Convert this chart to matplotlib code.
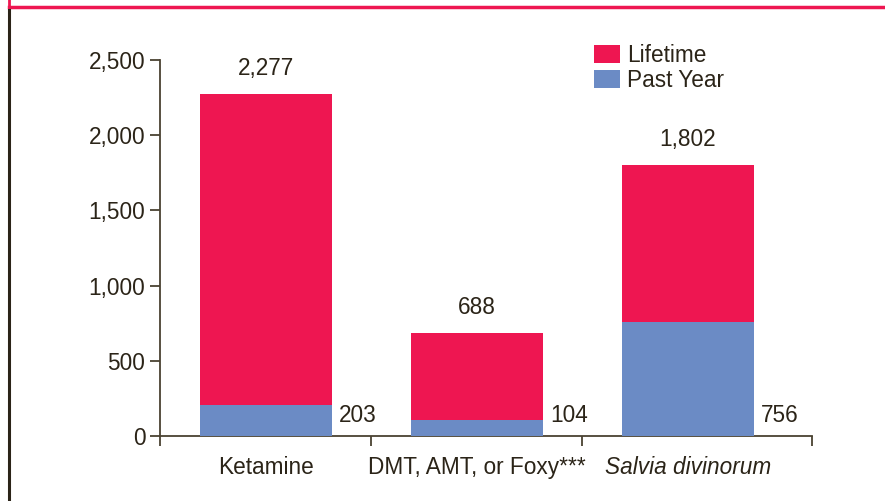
import matplotlib
matplotlib.use("Agg")
import matplotlib.pyplot as plt
from matplotlib.lines import Line2D
import numpy as np

categories = ["Ketamine", "DMT, AMT, or Foxy***", "Salvia divinorum"]
lifetime = [2277, 688, 1802]
past_year = [203, 104, 756]
yticks = [0, 500, 1000, 1500, 2000, 2500]
ytick_labels = ["0", "500", "1,000", "1,500", "2,000", "2,500"]

RED = "#EE1651"
BLUE = "#6B8BC5"
TXT = "#2B2418"
AX = "#4A4232"

plt.rcParams['font.family'] = ['Liberation Sans', 'DejaVu Sans']
fs = 16.3

fig = plt.figure(figsize=(8.85, 5.01), dpi=100)
ax = fig.add_axes([160/885, 65/501, (812-160)/885, (436-60)/501])

x = np.arange(len(categories))
w = 0.625
ax.bar(x, lifetime, width=w, color=RED, label="Lifetime", zorder=2)
ax.bar(x, past_year, width=w, color=BLUE, label="Past Year", zorder=3)

for xi, lt, py in zip(x, lifetime, past_year):
    ax.text(xi, lt + 90, f"{lt:,}", ha="center", va="bottom", fontsize=fs, color=TXT)
    ax.text(xi + w/2 + 0.035, 135, f"{py:,}", ha="left", va="center", fontsize=fs, color=TXT)

right = 2.588
ax.set_xlim(-0.502, right)
ax.set_ylim(0, 2500)
ax.set_yticks(yticks)
ax.set_yticklabels(ytick_labels, fontsize=fs, color=TXT)
ax.set_xticks([-0.5, 0.5, 1.5, right - 0.001])
ax.set_xticklabels([])
for xi, c in zip(x, categories):
    style = "italic" if c.startswith("Salvia") else "normal"
    ax.text(xi, -0.083, c, transform=ax.get_xaxis_transform(), ha="center", va="center",
            fontsize=fs, color=TXT, style=style)

for s in ["top", "right"]:
    ax.spines[s].set_visible(False)
for s in ["left", "bottom"]:
    ax.spines[s].set_color(AX)
    ax.spines[s].set_linewidth(1.3)
ax.tick_params(axis="both", direction="out", length=7, width=1.3, color=AX, pad=3.5)

leg = ax.legend(loc="upper left", bbox_to_anchor=(0.651, 1.066), frameon=False,
                fontsize=fs, handlelength=1.15, handleheight=0.84, handletextpad=0.35,
                labelspacing=0.08, labelcolor=TXT, borderaxespad=0)

# frame decorations
fig.add_artist(Line2D([9/885, 1], [1 - 7/501, 1 - 7/501], transform=fig.transFigure, color=RED, lw=2.5))
fig.add_artist(Line2D([9/885, 9/885], [1, 1 - 7/501], transform=fig.transFigure, color=RED, lw=2))
fig.add_artist(Line2D([9/885, 9/885], [0, 1 - 10/501], transform=fig.transFigure, color="#2B2418", lw=2.2))

fig.savefig("out.png", dpi=100)
